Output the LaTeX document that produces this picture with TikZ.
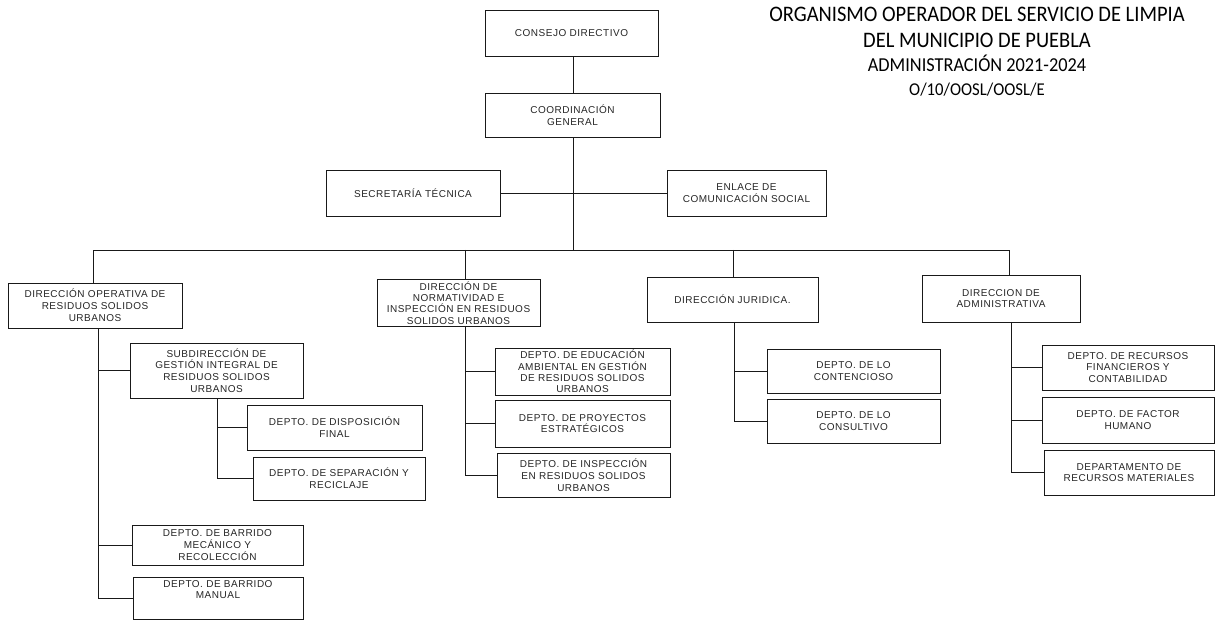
\documentclass[tikz,border=0pt]{standalone}
\usepackage{fontspec}
\setmainfont{Liberation Sans}
\newfontfamily\boxfont[LetterSpace=5]{Liberation Sans}
\newfontfamily\titlefont{Carlito}
\begin{document}
\begin{tikzpicture}[x=1pt,y=-1pt,
  box/.style={draw=black!90, line width=0.9pt, align=center, inner sep=0pt,
    font=\boxfont\fontsize{10}{11.8}\selectfont, text=black!85},
  bx/.style 2 args={minimum width=#1, minimum height=#2},
  conn/.style={draw=black!90, line width=0.9pt},
  ttl/.style={font=\titlefont\fontsize{20.5}{22.5}\selectfont, text=black, inner sep=0pt, align=center, yscale=1.08}]
\fill[white] (0,0) rectangle (1217,620);
\useasboundingbox (0,0) rectangle (1217,620);

% title
\node[ttl] (title) at (977,52) {ORGANISMO OPERADOR DEL SERVICIO DE LIMPIA\\[1pt]
DEL MUNICIPIO DE PUEBLA\\
{\fontsize{18.3}{22.5}\selectfont ADMINISTRACIÓN 2021-2024}\\
{\fontsize{16.7}{22.5}\selectfont O/10/OOSL/OOSL/E}};

% top
\node[box,bx={173}{46}] (cons) at (571.5,33) {CONSEJO DIRECTIVO};
\node[box,bx={175}{44}] (coord) at (572.5,115) {COORDINACIÓN\\GENERAL};
\node[box,bx={174}{46}] (sec) at (413,193) {SECRETARÍA TÉCNICA};
\node[box,bx={159}{46}] (enl) at (746.5,193) {ENLACE DE\\COMUNICACIÓN SOCIAL};

% directions
\node[box,bx={174}{45}] (dop) at (95,305.5) {DIRECCIÓN OPERATIVA DE\\RESIDUOS SOLIDOS\\URBANOS};
\node[box,bx={163}{47},font=\boxfont\fontsize{10}{11.2}\selectfont] (dnorm) at (458.5,303) {DIRECCIÓN DE\\NORMATIVIDAD E\\INSPECCIÓN EN RESIDUOS\\SOLIDOS URBANOS};
\node[box,bx={171}{45}] (djur) at (732.5,299.5) {DIRECCIÓN JURIDICA.};
\node[box,bx={158}{47}] (dadm) at (1001,298.5) {DIRECCION DE\\ADMINISTRATIVA};

% operativa branch
\node[box,bx={173}{55}] (sub) at (216.5,370.5) {SUBDIRECCIÓN DE\\GESTIÓN INTEGRAL DE\\RESIDUOS SOLIDOS\\URBANOS};
\node[box,bx={175}{45}] (dfinal) at (334.5,427.5) {DEPTO. DE DISPOSICIÓN\\FINAL};
\node[box,bx={172}{43}] (dsep) at (339,478.5) {DEPTO. DE SEPARACIÓN Y\\RECICLAJE};
\node[box,bx={171}{40}] (dmec) at (217.5,545) {DEPTO. DE BARRIDO\\MECÁNICO Y\\RECOLECCIÓN};
\node[box,bx={170}{42}] (dman) at (218,598.5) {DEPTO. DE BARRIDO\\MANUAL\\[6pt]};

% normatividad branch
\node[box,bx={175}{47},font=\boxfont\fontsize{10}{11.2}\selectfont] (dedu) at (582.5,371.5) {DEPTO. DE EDUCACIÓN\\AMBIENTAL EN GESTIÓN\\DE RESIDUOS SOLIDOS\\URBANOS};
\node[box,bx={175}{47}] (dproy) at (582.5,423.5) {DEPTO. DE PROYECTOS\\ESTRATÉGICOS};
\node[box,bx={173}{44}] (dinsp) at (583.5,475) {DEPTO. DE INSPECCIÓN\\EN RESIDUOS SOLIDOS\\URBANOS};

% juridica branch
\node[box,bx={173}{44}] (dcont) at (853.5,371) {DEPTO. DE LO\\CONTENCIOSO};
\node[box,bx={173}{44}] (dconsu) at (853.5,421) {DEPTO. DE LO\\CONSULTIVO};

% administrativa branch
\node[box,bx={172}{45}] (dfin) at (1128,367.5) {DEPTO. DE RECURSOS\\FINANCIEROS Y\\CONTABILIDAD};
\node[box,bx={172}{46}] (dfh) at (1128,420) {DEPTO. DE FACTOR\\HUMANO};
\node[box,bx={170}{45}] (dmat) at (1129,472.5) {DEPARTAMENTO DE\\RECURSOS MATERIALES};

% coordinates
\coordinate (trunk) at (573,0);
\coordinate (busL) at (93,250);
\coordinate (busR) at (1009,250);
\coordinate (jNorm) at (465,250);
\coordinate (jJur) at (733,250);
\coordinate (vOp) at (98,0);
\coordinate (vSub) at (217,0);
\coordinate (vNorm) at (465,0);
\coordinate (vJur) at (734,0);
\coordinate (vAdm) at (1011,0);

% connectors
\draw[conn] (trunk |- cons.south) -- (trunk |- coord.north);
\draw[conn] (trunk |- coord.south) -- (trunk |- busL);
\draw[conn] (sec.east) -- (enl.west);
\draw[conn] (busL |- dop.north) -- (busL) -- (busR) -- (busR |- dadm.north);
\draw[conn] (jNorm) -- (jNorm |- dnorm.north);
\draw[conn] (jJur) -- (jJur |- djur.north);

\draw[conn] (vOp |- dop.south) -- (vOp |- dman.west) -- (dman.west);
\draw[conn] (vOp |- sub.west) -- (sub.west);
\draw[conn] (vOp |- dmec.west) -- (dmec.west);

\draw[conn] (vSub |- sub.south) -- (vSub |- dsep.west) -- (dsep.west);
\draw[conn] (vSub |- dfinal.west) -- (dfinal.west);

\draw[conn] (vNorm |- dnorm.south) -- (vNorm |- dinsp.west) -- (dinsp.west);
\draw[conn] (vNorm |- dedu.west) -- (dedu.west);
\draw[conn] (vNorm |- dproy.west) -- (dproy.west);

\draw[conn] (vJur |- djur.south) -- (vJur |- dconsu.west) -- (dconsu.west);
\draw[conn] (vJur |- dcont.west) -- (dcont.west);

\draw[conn] (vAdm |- dadm.south) -- (vAdm |- dmat.west) -- (dmat.west);
\draw[conn] (vAdm |- dfin.west) -- (dfin.west);
\draw[conn] (vAdm |- dfh.west) -- (dfh.west);
\end{tikzpicture}
\end{document}
